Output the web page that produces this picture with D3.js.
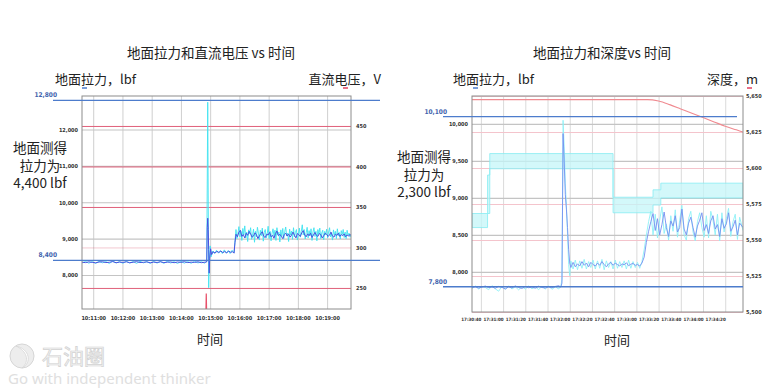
<!DOCTYPE html>
<html>
<head>
<meta charset="utf-8">
<script src="https://cdn.jsdelivr.net/npm/d3@7"></script>
<style>
    body { margin: 0; background: #fff; }
    svg { display: block; font-family: "Noto Sans CJK SC", "Noto Sans", sans-serif; }
    .tiny text, text.tiny { font-family: "DejaVu Sans Condensed", "DejaVu Sans", sans-serif; font-weight: bold; fill: #333; }
</style>
</head>
<body>
<div id="chart"></div>
<script>
// ---------- left chart: hookload & DC voltage (seconds after 10:10:00) ----------
let lbfTicksA = [8000, 9000, 10000, 11000, 12000];
let voltTicks = [250, 300, 350, 400, 450];
let minuteTicks = [60, 120, 180, 240, 300, 360, 420, 480, 540];
let refLinesA = [{value: 12800, label: "12,800"}, {value: 8400, label: "8,400"}];

let tensionBlueA = [
    [37,8352],[44,8340],[51,8361],[58,8347],[65,8335],[72,8356],[79,8364],[86,8342],[93,8350],[100,8368],
    [107,8338],[114,8355],[121,8346],[128,8362],[135,8337],[142,8351],[149,8366],[156,8343],[163,8349],[170,8360],
    [177,8336],[184,8354],[191,8345],[198,8363],[205,8340],[212,8352],[219,8358],[226,8338],[233,8357],[240,8348],
    [247,8365],[254,8341],[261,8353],[268,8346],[275,8362],[282,8339],[289,8352],
    [293,8360],[294,9300],[295,9560],[296,9250],[297,8700],[298,8050],[299,8450],[301,8720],[303,8560],
    [306,8640],[310,8605],[314,8650],[318,8620],[322,8660],[326,8615],[330,8645],[334,8610],[338,8655],[342,8625],
    [346,8640],[349,8600],
    [351,8900],[353,9120],[356,9050],[359,9180],[362,9230],[365,9060],[368,9110],[371,9020],[374,9150],[377,9090],
    [380,9200],[383,9130],[386,9040],[389,9070],[392,9160],[395,9110],[398,9000],[401,9080],[404,9140],[407,9190],
    [410,9060],[413,9030],[416,9120],[419,9100],[422,9170],[425,9050],[428,9090],[431,9010],[434,9140],[437,9210],
    [440,9080],[443,9120],[446,9060],[449,9000],[452,9110],[455,9150],[458,9070],[461,9130],[464,9040],[467,9100],
    [470,9180],[473,9090],[476,9020],[479,9140],[482,9110],[485,9060],[488,9160],[491,9220],[494,9100],[497,9050],
    [500,9130],[503,9080],[506,9150],[509,9030],[512,9100],[515,9170],[518,9090],[521,9060],[524,9140],[527,9110],
    [530,9020],[533,9080],[536,9150],[539,9120],[542,9060],[545,9100],[548,9180],[551,9070],[554,9040],[557,9120],
    [560,9090],[563,9150],[566,9060],[569,9110],[572,9080],[575,9130],[578,9050],[581,9100],[584,9070],[587,9120],
    [589,9080]
];

let tensionCyanA = [
    [37,8330],[44,8372],[51,8325],[58,8368],[65,8320],[72,8375],[79,8335],[86,8370],[93,8318],[100,8380],
    [107,8330],[114,8365],[121,8322],[128,8374],[135,8328],[142,8369],[149,8320],[156,8378],[163,8333],[170,8366],
    [177,8319],[184,8372],[191,8327],[198,8370],[205,8321],[212,8376],[219,8330],[226,8367],[233,8318],[240,8373],
    [247,8326],[254,8369],[261,8322],[268,8377],[275,8331],[282,8365],[289,8324],
    [293,8380],[294,10500],[295,12750],[296,10200],[297,7650],[298,8300],[300,8800],[302,8500],
    [305,8660],[309,8590],[313,8680],[317,8600],[321,8670],[325,8590],[329,8690],[333,8600],[337,8670],[341,8590],
    [345,8680],[349,8610],
    [351,8950],[353,9250],[355,9000],[357,9150],[359,9330],[361,9050],[363,9200],[365,8950],[367,9280],[369,9100],
    [371,9350],[373,9020],[375,9180],[377,8920],[379,9240],[381,9130],[383,9300],[385,8980],[387,9100],[389,9260],
    [391,8900],[393,9200],[395,9050],[397,9310],[399,9150],[401,8960],[403,9230],[405,9080],[407,9290],[409,8930],
    [411,9170],[413,9250],[415,9020],[417,9120],[419,9340],[421,9000],[423,9200],[425,8940],[427,9150],[429,9270],
    [431,9060],[433,9230],[435,8950],[437,9300],[439,9100],[441,9180],[443,8910],[445,9240],[447,9050],[449,9280],
    [451,9000],[453,9190],[455,9320],[457,9080],[459,9150],[461,8920],[463,9260],[465,9100],[467,9210],[469,8980],
    [471,9300],[473,9050],[475,9170],[477,9250],[479,8960],[481,9120],[483,9290],[485,9040],[487,9200],[489,9380],
    [491,9100],[493,9250],[495,8990],[497,9160],[499,9310],[501,9020],[503,9220],[505,9080],[507,9270],[509,8950],
    [511,9180],[513,9300],[515,9060],[517,9200],[519,8940],[521,9250],[523,9120],[525,9290],[527,9000],[529,9160],
    [531,9230],[533,8970],[535,9200],[537,9100],[539,9260],[541,9020],[543,9180],[545,9300],[547,9050],[549,9150],
    [551,8960],[553,9240],[555,9100],[557,9200],[559,9000],[561,9270],[563,9080],[565,9170],[567,8990],[569,9220],
    [571,9110],[573,9250],[575,9030],[577,9180],[579,9000],[581,9230],[583,9090],[585,9150],[587,9040],[589,9120]
];

// DC voltage sits below the plotted range except for a short blip
let voltage = [[37,212],[291,212],[292,243],[293,212],[589,212]];

// ---------- right chart: hookload & depth (seconds after 17:30:00) ----------
let lbfTicksB = [8000, 8500, 9000, 9500, 10000];
let depthTicks = [5500, 5525, 5550, 5575, 5600, 5625, 5650];
let twentySecTicks = [40, 60, 80, 100, 120, 140, 160, 180, 200, 220, 240, 260];
let refLinesB = [{value: 10100, label: "10,100", end: 737}, {value: 7800, label: "7,800", end: 743}];

let tensionBlueB = [
    [32,7790],[35,7800],[38,7782],[41,7795],[44,7810],[47,7788],[50,7798],[53,7780],[56,7805],[59,7792],
    [62,7770],[65,7800],[68,7785],[71,7812],[74,7790],[77,7778],[80,7802],[83,7787],[86,7796],[89,7781],
    [92,7808],[95,7790],[98,7783],[101,7799],[104,7786],[107,7804],[110,7815],[112,7795],
    [113,7850],[114,9870],[115,9500],[116,9050],[117,8850],[118,8600],[119,8300],[120,8120],[121,8060],
    [123,8130],[125,8070],[127,8110],[129,8080],[131,8140],[133,8090],[135,8120],[137,8070],[139,8130],[141,8100],
    [143,8080],[145,8120],[147,8090],[149,8140],[151,8100],[153,8070],[155,8110],[157,8130],[159,8090],[161,8120],
    [163,8100],[165,8080],[167,8110],[169,8095],[171,8125],[173,8085],[175,8105],[177,8115],[179,8090],[181,8100],
    [183,8080],[185,8120],
    [187,8200],[189,8400],[191,8550],[193,8680],[195,8790],[197,8560],[199,8720],[201,8500],[203,8640],[205,8810],
    [207,8600],[209,8480],[211,8690],[213,8620],[215,8760],[217,8540],[219,8600],[221,8850],[223,8580],[225,8500],
    [227,8660],[229,8740],[231,8600],[233,8470],[235,8620],[237,8700],[239,8800],[241,8560],[243,8640],[245,8520],
    [247,8690],[249,8760],[251,8580],[253,8640],[255,8480],[257,8720],[259,8590],[261,8650],[263,8800],[265,8550],
    [267,8610],[269,8700],[271,8500],[273,8660],[276,8600]
];

let tensionCyanB = [
    [32,7775],[35,7810],[38,7770],[41,7805],[44,7790],[47,7760],[50,7815],[53,7772],[56,7740],[59,7808],
    [62,7765],[65,7812],[68,7770],[71,7800],[74,7758],[77,7802],[80,7768],[83,7810],[86,7772],[89,7798],
    [92,7762],[95,7806],[98,7770],[101,7812],[104,7765],[107,7800],[110,7770],[112,7810],
    [113,7900],[114,10050],[115,9700],[116,9200],[117,8900],[118,8500],[119,8100],[120,7950],[121,8150],
    [123,8040],[125,8160],[127,8030],[129,8150],[131,8050],[133,8170],[135,8040],[137,8140],[139,8060],[141,8160],
    [143,8040],[145,8150],[147,8050],[149,8170],[151,8030],[153,8150],[155,8060],[157,8140],[159,8040],[161,8160],
    [163,8050],[165,8140],[167,8060],[169,8150],[171,8040],[173,8160],[175,8050],[177,8140],[179,8060],[181,8130],
    [183,8050],[185,8140],
    [187,8300],[189,8500],[191,8680],[193,8820],[195,8500],[197,8780],[199,8460],[201,8700],[203,8880],[205,8520],
    [207,8650],[209,8430],[211,8760],[213,8550],[215,8840],[217,8470],[219,8700],[221,8900],[223,8500],[225,8430],
    [227,8720],[229,8820],[231,8540],[233,8420],[235,8680],[237,8800],[239,8600],[241,8470],[243,8760],[245,8460],
    [247,8820],[249,8700],[251,8500],[253,8780],[255,8420],[257,8800],[259,8540],[261,8720],[263,8860],[265,8480],
    [267,8680],[269,8780],[271,8440],[273,8740],[276,8560]
];

let depth = [[32,5647.5],[190,5647.5],[200,5646.5],[210,5644],[220,5641],[230,5638],[240,5635],[250,5632],[260,5629],[270,5626.5],[276,5625]];

// shaded band [sec, low, high], drawn as steps
let band = [[32,8600,8790],[46,8790,9310],[48,9395,9600],[159,8800,9010],[195,8905,9110],[202,9000,9200],[276,9000,9200]];

// ---------- drawing ----------
const svg = d3.select("#chart").append("svg")
    .attr("width", 775)
    .attr("height", 388);

const fmtComma = d3.format(",");
const fmtTime = d3.timeFormat("%H:%M:%S");

function panel(opt) {
    let b = opt.box;
    let g = svg.append("g");
    let w = b.x1 - b.x0, h = b.y1 - b.y0;

    // vertical grid
    g.append("g")
        .attr("transform", `translate(0,${b.y1})`)
        .call(d3.axisBottom(opt.x).tickValues(opt.xTicks).tickSize(-h).tickFormat(""))
        .call(s => s.select(".domain").remove())
        .call(s => s.selectAll("line").attr("stroke", opt.vGrid).attr("stroke-width", 1));

    // horizontal grid for the left (lbf) axis
    g.append("g")
        .attr("transform", `translate(${b.x0},0)`)
        .call(d3.axisLeft(opt.yL).tickValues(opt.lTicks).tickSize(-w).tickFormat(""))
        .call(s => s.select(".domain").remove())
        .call(s => s.selectAll("line").attr("stroke", "#c4c4c4").attr("stroke-width", 1.2));

    // horizontal grid for the right axis
    g.append("g")
        .attr("transform", `translate(${b.x0},0)`)
        .call(d3.axisLeft(opt.yR).tickValues(opt.rTicks).tickSize(-w).tickFormat(""))
        .call(s => s.select(".domain").remove())
        .call(s => s.selectAll("line").attr("stroke", opt.rGrid).attr("stroke-width", 1)
            .attr("stroke-opacity", d => opt.faint && opt.faint.includes(d) ? 0.35 : 1));

    // clip for the traces
    let clipId = "clip" + opt.id;
    svg.append("clipPath").attr("id", clipId)
        .append("rect").attr("x", b.x0).attr("y", b.y0).attr("width", w).attr("height", h);
    let plot = g.append("g").attr("clip-path", `url(#${clipId})`);
    opt.draw(plot);

    // frame
    g.append("rect")
        .attr("x", b.x0).attr("y", b.y0).attr("width", w).attr("height", h)
        .attr("fill", "none").attr("stroke", "#8c8c8c").attr("stroke-width", 1);

    // tick labels
    g.append("g").attr("class", "tiny")
        .attr("transform", `translate(${b.x0},0)`)
        .call(d3.axisLeft(opt.yL).tickValues(opt.lTicks).tickSize(0).tickPadding(opt.lPad).tickFormat(fmtComma))
        .call(s => s.select(".domain").remove())
        .call(s => s.selectAll("text").attr("font-size", 5.5));

    g.append("g").attr("class", "tiny")
        .attr("transform", `translate(${b.x1},0)`)
        .call(d3.axisRight(opt.yR).tickValues(opt.rTicks).tickSize(0).tickPadding(opt.rPad).tickFormat(fmtComma))
        .call(s => s.select(".domain").remove())
        .call(s => s.selectAll("text").attr("font-size", 5.5));

    g.append("g").attr("class", "tiny")
        .attr("transform", `translate(0,${b.y1})`)
        .call(d3.axisBottom(opt.x).tickValues(opt.xTicks).tickSize(0).tickPadding(opt.xPad).tickFormat(fmtTime))
        .call(s => s.select(".domain").remove())
        .call(s => s.selectAll("text").attr("font-size", opt.xSize).attr("text-anchor", opt.xAnchor));

    // blue reference lines with their values
    opt.refLines.forEach(r => {
        let y = opt.yL(r.value);
        g.append("line")
            .attr("x1", opt.refX0).attr("x2", r.end || opt.refX1)
            .attr("y1", y).attr("y2", y)
            .attr("stroke", "#4d7ccc").attr("stroke-width", 1.3);
        g.append("text").attr("class", "tiny")
            .attr("x", opt.refX0 + 4).attr("y", y - 3)
            .attr("text-anchor", "end")
            .attr("font-size", 6.5)
            .style("fill", "#3f63ad")
            .text(r.label);
    });

    // titles and axis names
    g.append("text").attr("x", opt.titleX).attr("y", 58).attr("text-anchor", "middle")
        .attr("font-size", 13.5).attr("fill", "#222").text(opt.title);
    g.append("text").attr("x", opt.leftNameX).attr("y", 84)
        .attr("font-size", 13).attr("fill", "#222").text(opt.leftName);
    g.append("text").attr("x", opt.rightNameX).attr("y", 84).attr("text-anchor", "end")
        .attr("font-size", 13).attr("fill", "#222").text(opt.rightName);
    g.append("line").attr("x1", opt.leftKey).attr("x2", opt.leftKey + 5).attr("y1", 88).attr("y2", 88)
        .attr("stroke", "#4d7ccc").attr("stroke-width", 1.5);
    g.append("line").attr("x1", opt.rightKey).attr("x2", opt.rightKey + 5).attr("y1", 88).attr("y2", 88)
        .attr("stroke", "#e04060").attr("stroke-width", 1.5);
    g.append("text").attr("x", opt.xNameX).attr("y", opt.xNameY).attr("text-anchor", "middle")
        .attr("font-size", 13).attr("fill", "#222").text("时间");

    // three-line annotation on the left side
    let note = g.append("text").attr("text-anchor", "middle")
        .attr("font-size", 13.5).attr("fill", "#222");
    opt.note.forEach((t, i) => {
        note.append("tspan").attr("x", opt.noteX).attr("y", opt.noteY + i * 17.5).text(t);
    });
}

function clock(h, m, s) { return new Date(2000, 0, 1, h, m, s); }

// left chart
let xA = d3.scaleTime().domain([clock(10, 10, 37), clock(10, 19, 49)]).range([82, 351]);
let yA = d3.scaleLinear().domain([7065, 12921]).range([309, 96]);
let vA = d3.scaleLinear().domain([224, 487]).range([309, 96]);
let tA = s => xA(clock(10, 10, s));

panel({
    id: "A",
    box: {x0: 82, x1: 351, y0: 96, y1: 309},
    x: xA, yL: yA, yR: vA,
    xTicks: minuteTicks.map(s => clock(10, 10, s)),
    lTicks: lbfTicksA, rTicks: voltTicks, faint: [300],
    vGrid: "#cfcfcf", rGrid: "#e0607a",
    lPad: 4, rPad: 5, xPad: 7, xSize: 5.5, xAnchor: "middle",
    refLines: refLinesA, refX0: 53, refX1: 380,
    title: "地面拉力和直流电压 vs 时间", titleX: 211,
    leftName: "地面拉力，lbf", leftNameX: 55, leftKey: 82,
    rightName: "直流电压，V", rightNameX: 381, rightKey: 343,
    xNameX: 210, xNameY: 344,
    note: ["地面测得", "拉力为", "4,400 lbf"], noteX: 40, noteY: 153,
    draw: p => {
        let line = d3.line().x(d => tA(d[0])).y(d => yA(d[1]));
        let vline = d3.line().x(d => tA(d[0])).y(d => vA(d[1]));
        p.append("path").datum(voltage).attr("d", vline)
            .attr("fill", "none").attr("stroke", "#e8506a").attr("stroke-width", 1.2);
        p.append("path").datum(tensionCyanA).attr("d", line)
            .attr("fill", "none").attr("stroke", "#3fe3f0").attr("stroke-width", 0.9);
        p.append("path").datum(tensionBlueA).attr("d", line)
            .attr("fill", "none").attr("stroke", "#4a50e0").attr("stroke-width", 1);
    }
});

// right chart
let xB = d3.scaleTime().domain([clock(17, 30, 32), clock(17, 34, 36)]).range([472, 743]);
let yB = d3.scaleLinear().domain([7459, 10378]).range([312, 96]);
let dB = d3.scaleLinear().domain([5500, 5650]).range([312, 96]);
let tB = s => xB(clock(17, 30, s));

panel({
    id: "B",
    box: {x0: 472, x1: 743, y0: 96, y1: 312},
    x: xB, yL: yB, yR: dB,
    xTicks: twentySecTicks.map(s => clock(17, 30, s)),
    lTicks: lbfTicksB, rTicks: depthTicks,
    vGrid: "#dadada", rGrid: "#f4c4cc",
    lPad: 4, rPad: 3, xPad: 6, xSize: 4.5, xAnchor: "end",
    refLines: refLinesB, refX0: 443, refX1: 743,
    title: "地面拉力和深度vs 时间", titleX: 602,
    leftName: "地面拉力，lbf", leftNameX: 453, leftKey: 473,
    rightName: "深度，m", rightNameX: 758, rightKey: 747,
    xNameX: 617, xNameY: 345,
    note: ["地面测得", "拉力为", "2,300 lbf"], noteX: 424, noteY: 162,
    draw: p => {
        let area = d3.area().curve(d3.curveStepAfter)
            .x(d => tB(d[0])).y0(d => yB(d[1])).y1(d => yB(d[2]));
        p.append("path").datum(band).attr("d", area)
            .attr("fill", "#c4f6f8").attr("fill-opacity", 0.75)
            .attr("stroke", "#86ecf2").attr("stroke-width", 0.8);
        let line = d3.line().x(d => tB(d[0])).y(d => yB(d[1]));
        let dline = d3.line().curve(d3.curveMonotoneX).x(d => tB(d[0])).y(d => dB(d[1]));
        p.append("path").datum(depth).attr("d", dline)
            .attr("fill", "none").attr("stroke", "#f08a90").attr("stroke-width", 1.1);
        p.append("path").datum(tensionCyanB).attr("d", line)
            .attr("fill", "none").attr("stroke", "#8ff0f6").attr("stroke-width", 0.9);
        p.append("path").datum(tensionBlueB).attr("d", line)
            .attr("fill", "none").attr("stroke", "#7590f0").attr("stroke-width", 0.9);
    }
});

// watermark
let wm = svg.append("g").attr("opacity", 0.9);
wm.append("circle").attr("cx", 22).attr("cy", 356).attr("r", 12)
    .attr("fill", "#ececec").attr("stroke", "#d2d2d2").attr("stroke-width", 1);
wm.append("path").attr("d", "M16,346 C30,349 32,363 22,368 C30,361 27,351 16,346 Z")
    .attr("fill", "#ffffff").attr("stroke", "#d2d2d2").attr("stroke-width", 0.8);
wm.append("text").attr("x", 42).attr("y", 364).attr("font-size", 21)
    .attr("fill", "#f2f2f2").attr("stroke", "#cdcdcd").attr("stroke-width", 0.7).text("石油圈");
wm.append("text").attr("x", 8).attr("y", 384).attr("font-size", 15)
    .attr("font-family", "'Noto Sans', sans-serif")
    .attr("fill", "#dcdcdc").text("Go with independent thinker");
</script>
</body>
</html>
